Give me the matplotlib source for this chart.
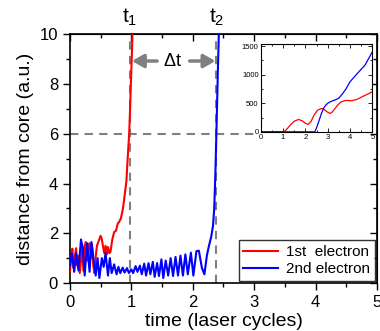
import matplotlib
matplotlib.use("Agg")
import matplotlib.pyplot as plt
from matplotlib.ticker import MultipleLocator

plt.rcParams["font.family"] = ["Liberation Sans", "DejaVu Sans"]
plt.rcParams["mathtext.fontset"] = "custom"
plt.rcParams["mathtext.rm"] = "Liberation Sans"
plt.rcParams["mathtext.it"] = "Liberation Sans:italic"

# 1st electron, distance from core vs time (main panel)
red_t = [0.00, 0.02, 0.04, 0.06, 0.08, 0.10, 0.12, 0.14, 0.16, 0.18,
         0.20, 0.22, 0.24, 0.26, 0.28, 0.30, 0.32, 0.34, 0.36, 0.38,
         0.40, 0.42, 0.44, 0.47, 0.50, 0.52, 0.54, 0.56, 0.58, 0.60,
         0.62, 0.64, 0.66, 0.69, 0.72, 0.75, 0.78, 0.80, 0.83, 0.86,
         0.88, 0.90, 0.92, 0.94, 0.955, 0.965, 0.98, 0.995, 1.01, 1.025]
red_d = [0.45, 1.00, 1.38, 0.60, 1.05, 1.40, 0.70, 1.10, 0.40, 0.90,
         1.45, 0.50, 1.50, 1.65, 0.90, 1.45, 1.60, 1.00, 1.55, 0.70,
         0.40, 1.05, 1.50, 1.70, 1.90, 1.75, 1.45, 1.20, 1.50, 1.15,
         1.45, 1.20, 1.25, 1.75, 2.05, 2.10, 2.40, 2.45, 2.60, 2.95,
         3.30, 3.70, 4.10, 5.00, 5.60, 6.00, 7.00, 8.20, 9.30, 10.5]

# 2nd electron
blue_t = [0.00, 0.03, 0.07, 0.10, 0.14, 0.18, 0.21, 0.24, 0.28, 0.32,
          0.35, 0.38, 0.42, 0.45, 0.48, 0.52, 0.55, 0.58, 0.62, 0.65,
          0.68, 0.72, 0.76, 0.79, 0.82, 0.86, 0.89, 0.93, 0.96, 1.00,
          1.03, 1.07, 1.10, 1.14, 1.17, 1.21, 1.24, 1.28, 1.31, 1.35,
          1.38, 1.42, 1.45, 1.49, 1.52, 1.56, 1.60, 1.64, 1.68, 1.72,
          1.76, 1.80, 1.84, 1.88, 1.92, 1.97, 2.01, 2.06, 2.10, 2.15,
          2.19, 2.23, 2.26, 2.30, 2.33, 2.35, 2.37, 2.39, 2.41, 2.43]
blue_d = [0.70, 1.20, 0.45, 1.20, 0.50, 1.75, 1.40, 0.30, 1.60, 0.45,
          1.65, 1.05, 0.30, 1.00, 0.20, 1.00, 0.65, 1.20, 0.30, 1.00,
          0.40, 0.75, 0.35, 0.65, 0.40, 0.62, 0.42, 0.60, 0.40, 0.55,
          0.40, 0.68, 0.45, 0.70, 0.35, 0.78, 0.30, 0.80, 0.35, 0.85,
          0.25, 0.80, 0.28, 0.95, 0.20, 0.90, 0.30, 1.00, 0.28, 1.05,
          0.30, 1.10, 0.30, 1.15, 0.35, 1.22, 0.30, 1.28, 1.30, 0.60,
          0.35, 1.10, 1.45, 1.85, 2.30, 3.00, 4.50, 6.50, 8.60, 10.5]

# inset: long-time trajectories
in_red_t = [0.0, 1.05, 1.20, 1.35, 1.50, 1.69, 1.85, 2.00, 2.13, 2.25,
            2.40, 2.55, 2.73, 2.85, 2.95, 3.10, 3.20, 3.33, 3.45, 3.60,
            3.82, 4.07, 4.30, 4.60, 5.00]
in_red_d = [0, 0, 60, 130, 185, 216, 195, 150, 130, 180,
            300, 380, 409, 390, 355, 321, 345, 409, 470, 525,
            550, 543, 566, 625, 700]
in_blue_t = [0.0, 2.42, 2.50, 2.60, 2.70, 2.81, 2.92, 3.03, 3.20, 3.35,
             3.50, 3.65, 3.80, 4.00, 4.30, 4.67, 5.00]
in_blue_d = [0, 0, 70, 180, 300, 409, 470, 508, 540, 560,
             590, 660, 740, 876, 1010, 1167, 1400]

t1, t2 = 0.975, 2.385
threshold = 6

fig = plt.figure(figsize=(3.8, 3.31), dpi=100)
ax = fig.add_axes([0.184, 0.145, 0.808, 0.751])

ax.plot(red_t, red_d, color="red", lw=1.5, label="1st  electron", zorder=3)
ax.plot(blue_t, blue_d, color="blue", lw=1.5, label="2nd electron", zorder=3)

dash = dict(color="gray", lw=1.5, ls=(0, (4, 3)), zorder=2)
ax.plot([t1, t1], [0, 10], **dash)
ax.plot([t2, t2], [0, 10], **dash)
ax.plot([0, 3.0], [threshold, threshold], **dash)

arr = dict(arrowstyle="-|>,head_length=0.7,head_width=0.4", color="gray",
           lw=2.5, shrinkA=0, shrinkB=0)
ax.annotate("", xy=(1.01, 8.93), xytext=(1.42, 8.93), arrowprops=arr)
ax.annotate("", xy=(2.37, 8.93), xytext=(1.95, 8.93), arrowprops=arr)
ax.text(1.67, 8.93, r"$\Delta$t", fontsize=13, ha="center", va="center")

ax.text(t1, 10.25, r"t$_1$", fontsize=15, ha="center", va="bottom")
ax.text(t2, 10.25, r"t$_2$", fontsize=15, ha="center", va="bottom")

ax.set_xlim(0, 5)
ax.set_ylim(0, 10)
ax.xaxis.set_major_locator(MultipleLocator(1))
ax.xaxis.set_minor_locator(MultipleLocator(0.5))
ax.yaxis.set_major_locator(MultipleLocator(2))
ax.yaxis.set_minor_locator(MultipleLocator(1))
ax.tick_params(which="both", direction="out", labelsize=12, width=1)
ax.tick_params(which="major", length=5)
ax.tick_params(which="minor", length=3)
for s in ax.spines.values():
    s.set_linewidth(1.2)

# mirrored ticks on top and right, pointing in
top = ax.secondary_xaxis("top")
top.xaxis.set_major_locator(MultipleLocator(1))
top.xaxis.set_minor_locator(MultipleLocator(0.5))
top.tick_params(which="both", direction="in", labeltop=False, width=1)
top.tick_params(which="major", length=5)
top.tick_params(which="minor", length=3)
right = ax.secondary_yaxis("right")
right.yaxis.set_major_locator(MultipleLocator(2))
right.yaxis.set_minor_locator(MultipleLocator(1))
right.tick_params(which="both", direction="in", labelright=False, width=1)
right.tick_params(which="major", length=5)
right.tick_params(which="minor", length=3)

ax.set_xlabel("time (laser cycles)", fontsize=14, labelpad=2)
ax.set_ylabel("distance from core (a.u.)", fontsize=14, labelpad=4)

leg = ax.legend(loc="lower right", fontsize=11, fancybox=False,
                edgecolor="black", handlelength=2.3, handletextpad=0.5,
                borderaxespad=0.15, borderpad=0.3, labelspacing=0.2)
leg.get_frame().set_linewidth(1.0)

# inset
ins = fig.add_axes([0.686, 0.600, 0.294, 0.266])
ins.plot(in_red_t, in_red_d, color="red", lw=0.9)
ins.plot(in_blue_t, in_blue_d, color="blue", lw=0.9)
ins.set_xlim(0, 5)
ins.set_ylim(-10, 1530)
ins.xaxis.set_major_locator(MultipleLocator(1))
ins.xaxis.set_minor_locator(MultipleLocator(0.5))
ins.yaxis.set_major_locator(MultipleLocator(500))
ins.yaxis.set_minor_locator(MultipleLocator(250))
ins.tick_params(which="both", direction="in", top=True, right=True,
                labelsize=5.5, width=0.6, pad=1.5)
ins.tick_params(which="major", length=3)
ins.tick_params(which="minor", length=1.5)
for s in ins.spines.values():
    s.set_linewidth(0.8)

fig.savefig("out.png", dpi=100)
